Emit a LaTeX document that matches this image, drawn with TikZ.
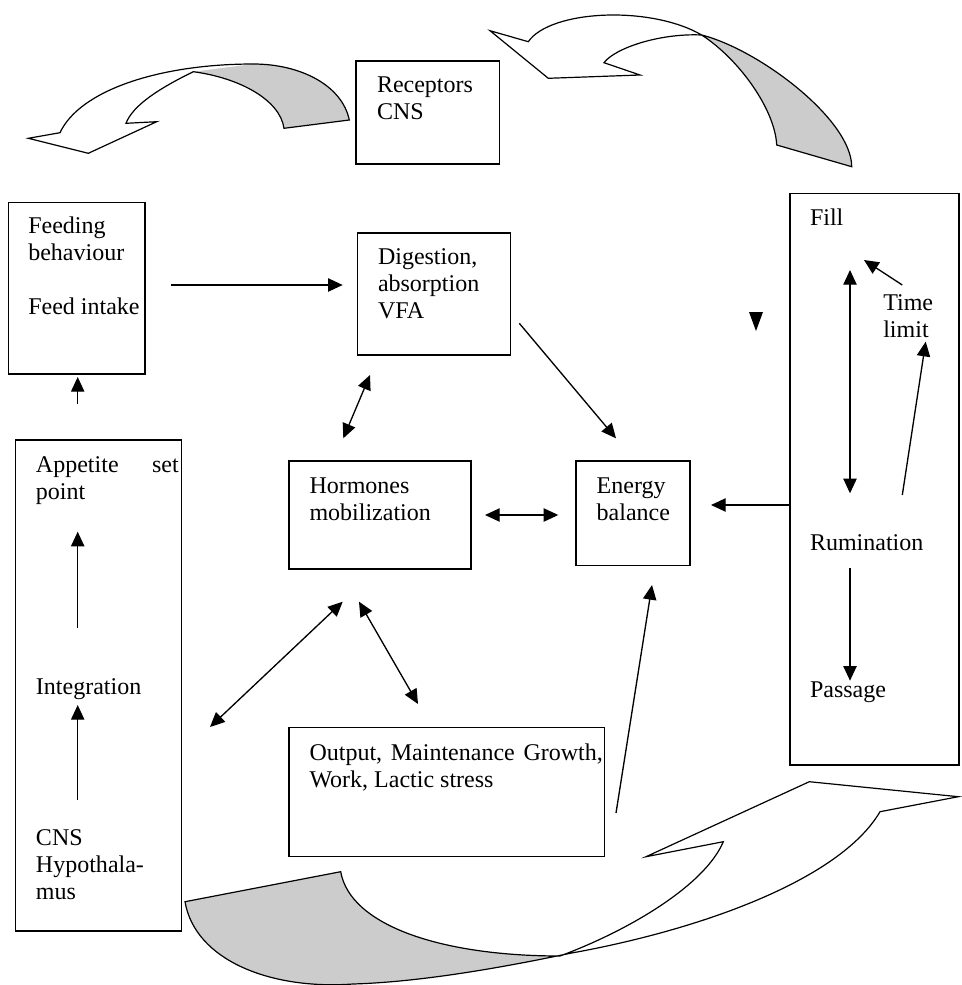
\documentclass[tikz,border=0pt]{standalone}
\usepackage{fontspec}
\setmainfont{Liberation Serif}
\usetikzlibrary{arrows.meta}
\definecolor{bandgrey}{RGB}{204,204,204}
\begin{document}
\begin{tikzpicture}[x=0.75pt,y=-0.75pt,
  box/.style={draw,line width=1.1pt,inner sep=0pt,outer sep=0pt},
  txt/.style={anchor=base west,inner sep=0pt,outer sep=0pt,font=\fontsize{18pt}{20.25pt}\selectfont},
  conn/.style={line width=1pt,-{Triangle[length=11pt,width=10pt]}},
  dconn/.style={line width=1pt,{Triangle[length=11pt,width=10pt]}-{Triangle[length=11pt,width=10pt]}},
  band/.style={draw,line width=0.9pt,line join=miter},
  bandshade/.style={fill=bandgrey}]
\useasboundingbox (0,0) rectangle (961,985);

% ---------- boxes ----------
\node[box,minimum width=107.5pt,minimum height=77.25pt] (rec) at (427.7,112.5) {};
\node[box,minimum width=102.5pt,minimum height=128.8pt] (feed) at (76.7,288.2) {};
\node[box,minimum width=115pt,minimum height=91.7pt] (dig) at (434,293.9) {};
\node[box,minimum width=136.5pt,minimum height=80.8pt] (hor) at (380,514.9) {};
\node[box,minimum width=85.7pt,minimum height=78.5pt] (ene) at (632.9,513.4) {};
\node[box,minimum width=124.5pt,minimum height=368.25pt] (app) at (98.7,685.5) {};
\node[box,minimum width=236.5pt,minimum height=97pt] (out) at (446.7,792) {};
\node[box,minimum width=126.75pt,minimum height=428.8pt] (fill) at (874.5,479.2) {};

% ---------- texts ----------
\node[txt] (trec1) at (377,92.5) {Receptors};
\node[txt] (trec2) at (377,119.5) {CNS};
\node[txt] (tfeed1) at (28.3,233.5) {Feeding};
\node[txt] (tfeed2) at (28.3,260.5) {behaviour};
\node[txt] (tfeed3) at (28.3,314.5) {Feed intake};
\node[txt] (tdig1) at (378,264.5) {Digestion,};
\node[txt] (tdig2) at (378,291.5) {absorption};
\node[txt] (tdig3) at (378,318.5) {VFA};
\node[txt] (thor1) at (309.5,493) {Hormones};
\node[txt] (thor2) at (309.5,520) {mobilization};
\node[txt] (tene1) at (596.7,493) {Energy};
\node[txt] (tene2) at (596.7,520) {balance};
\node[txt] (tapp1) at (36,472) {\hbox to 107pt{Appetite\hfill set}};
\node[txt] (tapp2) at (36,499) {point};
\node[txt] (tint) at (36,694) {Integration};
\node[txt] (tcns1) at (36,845) {CNS};
\node[txt] (tcns2) at (36,872) {Hypothala-};
\node[txt] (tcns3) at (36,899) {mus};
\node[txt] (tout1) at (309.5,760) {\hbox to 220pt{Output,\hfill Maintenance\hfill Growth,}};
\node[txt] (tout2) at (309.5,787) {Work, Lactic stress};
\node[txt] (tfill) at (810,225) {Fill};
\node[txt] (ttime1) at (883.3,310) {Time};
\node[txt] (ttime2) at (883.3,337) {limit};
\node[txt] (trum) at (810,550) {Rumination};
\node[txt] (tpas) at (810,697) {Passage};

% ---------- connector end points ----------
\coordinate (appTop) at (77.7,404);   \coordinate (feedBot) at (77.7,377);
\coordinate (feedR) at (170.7,285);   \coordinate (digL) at (342.7,285);
\coordinate (digBL) at (370,375);     \coordinate (horTop) at (343.3,438.3);
\coordinate (digBR) at (519.3,323.3); \coordinate (eneTop) at (616,438.3);
\coordinate (horR) at (485,515);      \coordinate (eneL) at (558.3,515);
\coordinate (horBL) at (342.7,601.7); \coordinate (appR) at (210,727);
\coordinate (horBR) at (359,601.7);   \coordinate (outTop) at (418,704);
\coordinate (outR) at (616,813);      \coordinate (eneBot) at (652,585);
\coordinate (fillL) at (790,505);     \coordinate (eneR) at (711,505);
\coordinate (fillA) at (850,270);     \coordinate (rumA) at (850,493.3);
\coordinate (timeS) at (902.3,285);   \coordinate (fillT) at (864,260);
\coordinate (rumS) at (902.3,495);    \coordinate (limitB) at (925.7,341.7);
\coordinate (rumB) at (850,568.3);    \coordinate (pasT) at (850,680.7);
\coordinate (intA) at (77.7,628);     \coordinate (appB) at (77.7,531.7);
\coordinate (cnsA) at (77.7,800);     \coordinate (intB) at (77.7,705);

% ---------- connectors ----------
\draw[conn] (appTop) -- (feedBot);
\draw[conn] (feedR) -- (digL);
\draw[dconn] (digBL) -- (horTop);
\draw[conn] (digBR) -- (eneTop);
\draw[dconn] (horR) -- (eneL);
\draw[dconn] (horBL) -- (appR);
\draw[dconn] (horBR) -- (outTop);
\draw[conn] (outR) -- (eneBot);
\draw[conn] (fillL) -- (eneR);
\draw[dconn] (fillA) -- (rumA);
\draw[conn] (timeS) -- (fillT);
\draw[conn] (rumS) -- (limitB);
\draw[conn] (rumB) -- (pasT);
\draw[conn] (intA) -- (appB);
\draw[conn] (cnsA) -- (intB);

% lone arrowhead
\fill (749,312) -- (763,312) -- (756,331) -- cycle;

% ---------- curved block arrows ----------
% top left
\fill[bandshade] (193.3,71.7) .. controls (240,78) and (280,100) .. (284,128.3) -- (349.3,120)
  .. controls (342,85) and (300,64) .. (253.3,64) -- cycle;
\draw[band] (60,132.7) -- (28.3,138.3) -- (88.3,153.3) -- (156.7,121.7) -- (126,123.3)
  .. controls (133,105) and (160,88) .. (193.3,71.7)
  .. controls (240,78) and (280,100) .. (284,128.3) -- (349.3,120)
  .. controls (342,85) and (300,64) .. (253.3,64)
  .. controls (160,64) and (80,90) .. (60,132.7) -- cycle;

% top right
\fill[bandshade] (701.7,35) .. controls (760,50) and (851.7,120) .. (851.7,166.7) -- (776.7,145)
  .. controls (775,110) and (740,60) .. (701.7,35) -- cycle;
\draw[band] (528.3,41.7) -- (490,30.7) -- (548.3,78.3) -- (640,75) -- (604,62.7)
  .. controls (615,48) and (660,33) .. (701.7,35)
  .. controls (740,60) and (775,110) .. (776.7,145) -- (851.7,166.7)
  .. controls (851.7,120) and (760,50) .. (701.7,35)
  .. controls (650,5) and (550,10) .. (528.3,41.7) -- cycle;

% bottom
\fill[bandshade] (185,901.7) .. controls (195,960) and (270,990) .. (353,984)
  .. controls (420,982) and (500,968) .. (570,953.3) -- (560,956)
  .. controls (440,956) and (350,925) .. (340.7,871.7) -- cycle;
\draw[band] (880,811.7) -- (958.3,796.7) -- (809.3,781.7) -- (646,856.7) -- (723.3,841.7)
  .. controls (705,885) and (630,930) .. (560,956)
  .. controls (440,956) and (350,925) .. (340.7,871.7) -- (185,901.7)
  .. controls (195,960) and (270,990) .. (353,984)
  .. controls (420,982) and (500,968) .. (570,953.3)
  .. controls (700,930) and (840,880) .. (880,811.7) -- cycle;
\end{tikzpicture}
\end{document}
